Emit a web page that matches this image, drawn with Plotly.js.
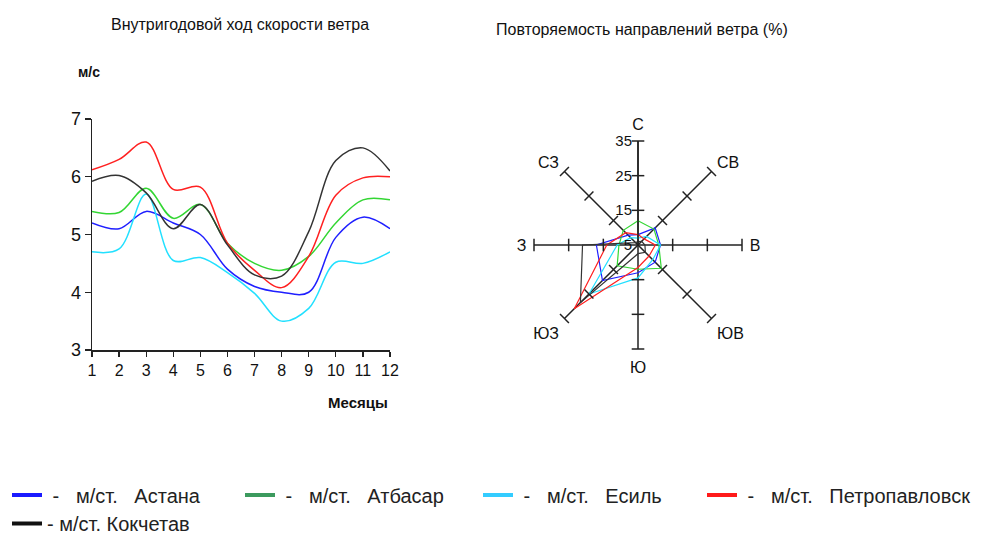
<!DOCTYPE html>
<html>
<head>
<meta charset="utf-8">
<script src="https://cdn.plot.ly/plotly-3.0.1.min.js"></script>
<style>html,body{margin:0;padding:0;background:#fff;}#chart{width:981px;height:543px;}</style>
</head>
<body>
<div id="chart"></div>
<script>
// ---- Data: monthly wind speed (m/s) ----
const months = [1,2,3,4,5,6,7,8,9,10,11,12];
const speedAstana  = [5.2, 5.1, 5.4, 5.2, 5.0, 4.4, 4.1, 4.0, 4.0, 4.95, 5.3, 5.1];
const speedAtbasar = [5.4, 5.38, 5.8, 5.28, 5.52, 4.85, 4.5, 4.38, 4.62, 5.2, 5.6, 5.6];
const speedEsil    = [4.7, 4.75, 5.7, 4.55, 4.6, 4.34, 3.98, 3.5, 3.72, 4.52, 4.5, 4.7];
const speedPetro   = [6.12, 6.3, 6.6, 5.78, 5.82, 4.85, 4.38, 4.08, 4.62, 5.68, 5.98, 6.0];
const speedKokch   = [5.92, 6.02, 5.72, 5.1, 5.52, 4.82, 4.3, 4.28, 5.05, 6.28, 6.5, 6.1];

// ---- Data: wind direction recurrence (%) ----
const directions = ["С","СВ","В","ЮВ","Ю","ЮЗ","З","СЗ"];
const dirAstana  = [8, 12, 11.5, 12, 13, 19.5, 17, 9];
const dirAtbasar = [12, 11.5, 11, 14.5, 12, 13.5, 10.5, 11];
const dirEsil    = [7, 8.5, 11.5, 11, 14.5, 25, 11, 8];
const dirPetro   = [8, 7.5, 10, 9.5, 11.5, 31, 14, 10];
const dirKokch   = [6, 6.5, 7, 8, 7.5, 28.5, 21, 6];
const radialTicks = [5, 15, 25, 35];

const stations = ["Астана","Атбасар","Есиль","Петропавловск","Кокчетав"];
const lineColors = ["#1f1fff","#33d633","#22e0ff","#ff2020","#333333"];
const legendColors = ["#1a1aff","#3c9a5e","#33ccff","#ff1a1a","#111111"];

const speeds = [speedAstana, speedAtbasar, speedEsil, speedPetro, speedKokch];
const dirs = [dirAstana, dirAtbasar, dirEsil, dirPetro, dirKokch];

const FONT = "Liberation Sans, Arial, sans-serif";
const NB = "\u00a0";

const traces = [];
for (let i = 0; i < stations.length; i++) {
  traces.push({
    type: "scatter", x: months, y: speeds[i], mode: "lines",
    line: {color: lineColors[i], width: 1.5, shape: "spline", smoothing: 1},
    showlegend: false, hoverinfo: "skip", xaxis: "x", yaxis: "y"
  });
}
for (let i = 0; i < stations.length; i++) {
  traces.push({
    type: "scatterpolar", subplot: "polar",
    r: dirs[i].concat([dirs[i][0]]),
    theta: directions.concat([directions[0]]),
    mode: "lines", line: {color: lineColors[i], width: 1.2},
    showlegend: false, hoverinfo: "skip"
  });
}
// tick marks on every spoke
const tr = [], tt = [], ta = [];
directions.forEach((d, k) => {
  radialTicks.slice(1).forEach(v => { tr.push(v); tt.push(d); ta.push(k * 45); });
});
traces.push({
  type: "scatterpolar", subplot: "polar", r: tr, theta: tt, mode: "markers",
  marker: {symbol: "line-ew", size: 9, angle: ta, color: "#222", line: {color: "#222", width: 1.5}},
  showlegend: false, hoverinfo: "skip"
});
// legend entries, one legend box each
const legendIds = ["legend", "legend2", "legend3", "legend4", "legend5"];
for (let i = 0; i < stations.length; i++) {
  const last = i === stations.length - 1;
  traces.push({
    type: "scatter", x: [null], y: [null], mode: "lines",
    line: {color: legendColors[i], width: 4},
    name: last ? ("- м/ст. " + stations[i])
               : (NB + "-" + NB + NB + NB + "м/ст." + NB + NB + NB + stations[i]),
    legend: legendIds[i],
    xaxis: "x", yaxis: "y", hoverinfo: "skip"
  });
}

const W = 981, H = 543;
const cx = 638, cy = 245, R = 104;

function legendBox(xpx, y, anchor) {
  return {
    orientation: "h", x: xpx / W, xanchor: "left", y: y, yanchor: anchor,
    font: {size: 20, family: FONT, color: "#222"}, bgcolor: "rgba(0,0,0,0)", itemwidth: 30
  };
}
const row1 = 1 - 495 / H;

const layout = {
  width: W, height: H,
  margin: {l: 0, r: 0, t: 0, b: 0},
  paper_bgcolor: "#fff", plot_bgcolor: "#fff",
  font: {family: FONT, color: "#111", size: 15},
  xaxis: {
    domain: [92 / W, 390 / W], range: [1, 12],
    tickvals: months, ticks: "outside", ticklen: 5, tickwidth: 1.2, tickcolor: "#222",
    showline: true, linecolor: "#222", linewidth: 1.5, showgrid: false, zeroline: false,
    tickfont: {size: 16, family: FONT}, fixedrange: true
  },
  yaxis: {
    domain: [1 - 350 / H, 1 - 119 / H], range: [3, 7],
    tickvals: [3,4,5,6,7], ticks: "outside", ticklen: 6, tickwidth: 1.2, tickcolor: "#222",
    showline: true, linecolor: "#222", linewidth: 1.5, showgrid: false, zeroline: false,
    tickfont: {size: 18, family: FONT}, fixedrange: true
  },
  polar: {
    domain: {x: [(cx - R) / W, (cx + R) / W], y: [1 - (cy + R) / H, 1 - (cy - R) / H]},
    bgcolor: "rgba(0,0,0,0)",
    radialaxis: {
      range: [5, 35], tickvals: radialTicks, angle: 90, side: "counterclockwise",
      showline: true, linecolor: "#222", linewidth: 1.5, showgrid: false,
      ticks: "", tickangle: 90, tickfont: {size: 15, family: FONT, color: "#111"}
    },
    angularaxis: {
      type: "category", categoryarray: directions, direction: "clockwise", rotation: 90,
      showline: false, showgrid: true, gridcolor: "#222", gridwidth: 1.5,
      ticks: "outside", ticklen: 4, tickcolor: "rgba(0,0,0,0)",
      tickfont: {size: 16, family: FONT, color: "#111"}
    }
  },
  legend: legendBox(7, row1, "middle"),
  legend2: legendBox(240, row1, "middle"),
  legend3: legendBox(478, row1, "middle"),
  legend4: legendBox(702, row1, "middle"),
  legend5: legendBox(7, 0, "bottom"),
  annotations: [
    {text: "Внутригодовой ход скорости ветра", x: 240 / W, y: 1 - 25 / H, xref: "paper", yref: "paper",
     xanchor: "center", yanchor: "middle", showarrow: false, font: {size: 16, family: FONT, color: "#111"}},
    {text: "Повторяемость направлений ветра (%)", x: 642 / W, y: 1 - 30 / H, xref: "paper", yref: "paper",
     xanchor: "center", yanchor: "middle", showarrow: false, font: {size: 16, family: FONT, color: "#111"}},
    {text: "<b>м/с</b>", x: 89 / W, y: 1 - 72 / H, xref: "paper", yref: "paper",
     xanchor: "center", yanchor: "middle", showarrow: false, font: {size: 14, family: FONT, color: "#111"}},
    {text: "<b>Месяцы</b>", x: 358 / W, y: 1 - 402 / H, xref: "paper", yref: "paper",
     xanchor: "center", yanchor: "middle", showarrow: false, font: {size: 15, family: FONT, color: "#111"}}
  ]
};

Plotly.newPlot("chart", traces, layout, {staticPlot: true, displayModeBar: false});
</script>
</body>
</html>
